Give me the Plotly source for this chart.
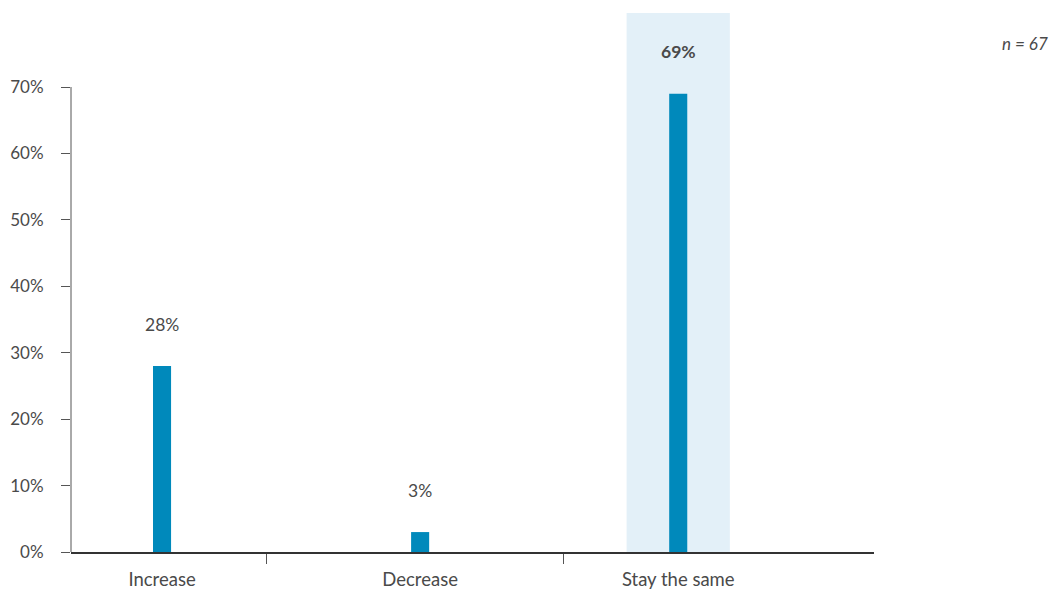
import plotly.graph_objects as go

# Survey responses: expected change
categories = ["Increase", "Decrease", "Stay the same"]
shares = [28, 3, 69]
highlight = "Stay the same"
sample_note = "<i>n</i><i> = 67</i>"
y_ticks = [0, 10, 20, 30, 40, 50, 60, 70]

BAR = "#0089BB"
BAND = "#E3F0F8"
TEXT = "#4A4A4A"
FONT = "Lato, 'Open Sans', sans-serif"

x_pos = list(range(len(categories)))
hi_idx = categories.index(highlight)

fig = go.Figure()

fig.add_trace(go.Bar(
    x=x_pos,
    y=shares,
    width=0.07,
    marker=dict(color=BAR, line=dict(width=0)),
    hoverinfo="skip",
    showlegend=False,
))

# Shaded band behind the highlighted category
fig.add_shape(
    type="rect", xref="x", yref="paper",
    x0=hi_idx - 0.2, x1=hi_idx + 0.2, y0=0, y1=1,
    fillcolor=BAND, line=dict(width=0), layer="below",
)

# Vertical axis line only up to the last tick
fig.add_shape(
    type="line", xref="paper", yref="y",
    x0=0, x1=0, y0=y_ticks[0], y1=y_ticks[-1],
    line=dict(color="#555555", width=1),
)

# Value labels above bars
for i, (cat, v) in enumerate(zip(categories, shares)):
    bold = cat == highlight
    fig.add_annotation(
        x=i, y=v, xref="x", yref="y",
        text=f"<b>{v}%</b>" if bold else f"{v}%",
        showarrow=False, yshift=42, yanchor="middle",
        font=dict(family=FONT, size=17.5, color=TEXT),
    )

fig.add_annotation(
    x=1.2197, y=0.944, xref="paper", yref="paper",
    text=sample_note, showarrow=False, xanchor="right", yanchor="middle",
    font=dict(family=FONT, size=17, color=TEXT),
)

fig.update_layout(
    width=1051, height=593,
    margin=dict(l=71, r=177, t=13, b=41),
    paper_bgcolor="white", plot_bgcolor="white",
    font=dict(family=FONT, size=17, color=TEXT),
    xaxis=dict(
        range=[-0.3527, 2.7585],
        tickmode="array", tickvals=x_pos, ticktext=categories,
        tickfont=dict(size=18.5),
        ticks="", showgrid=False, zeroline=False,
        showline=True, linecolor="#333333", linewidth=2,
        ticklabelstandoff=10, automargin=False,
        minor=dict(
            tickmode="array", tickvals=[0.403, 1.555],
            ticks="outside", ticklen=10, tickwidth=1, tickcolor="#555555",
            showgrid=False,
        ),
    ),
    yaxis=dict(
        range=[0, 81.14],
        tickmode="array", tickvals=y_ticks,
        ticktext=[f"{t}%" for t in y_ticks],
        ticks="outside", ticklen=9, tickwidth=1, tickcolor="#555555",
        showgrid=False, zeroline=False, showline=False,
        ticklabelstandoff=14, automargin=False,
    ),
)

fig.write_html("out.html")
